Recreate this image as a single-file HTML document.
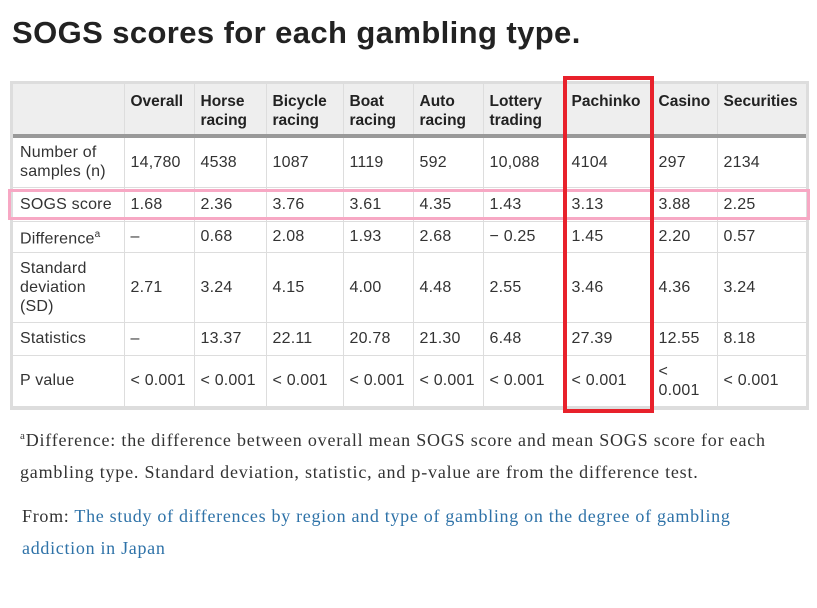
<!DOCTYPE html>
<html><head><meta charset="utf-8"><style>
body{margin:0;width:817px;height:608px;background:#fff;position:relative;overflow:hidden;font-family:"Liberation Sans",sans-serif;color:#333}
h1{position:absolute;left:12px;top:15px;margin:0;font-size:31px;font-weight:bold;color:#222;letter-spacing:0.4px}
.tw{position:absolute;left:10px;top:81px;width:793px;border:3px solid #ddd;}
table{border-collapse:collapse;font-size:16px;table-layout:fixed;width:793px}
td,th{border:1px solid #ddd;padding:0 6px;text-align:left;vertical-align:middle;line-height:19px}
td{letter-spacing:0.2px}
th{background:#eee;font-weight:bold;font-size:15.5px;color:#222;height:52px;vertical-align:top;padding-top:8px;box-sizing:border-box}
thead tr{border-bottom:4px solid #999}
tr:first-child td,tr:first-child th{border-top:none}
td:first-child,th:first-child{border-left:none;padding-left:7px}
td:last-child,th:last-child{border-right:none}
.red{position:absolute;left:563px;top:76px;width:83px;height:329px;border:4px solid #e8212b}
.pink{position:absolute;left:8px;top:189px;width:796px;height:25px;border:3px solid #f7a8c4}
.fn{position:absolute;left:20px;top:420px;width:795px;font-family:"Liberation Serif",serif;font-size:18px;letter-spacing:0.8px;line-height:32px;color:#333}
.from{position:absolute;left:22px;top:500px;width:770px;font-family:"Liberation Serif",serif;font-size:18px;letter-spacing:0.7px;line-height:32px;color:#333}
.from a{color:#2e72a8;text-decoration:none}
</style></head><body>
<h1>SOGS scores for each gambling type.</h1>
<div class="tw"><table>
<colgroup><col style="width:111px"><col style="width:70px"><col style="width:72px"><col style="width:77px"><col style="width:70px"><col style="width:70px"><col style="width:82px"><col style="width:87px"><col style="width:65px"><col style="width:89px"></colgroup>
<thead><tr><th></th><th>Overall</th><th>Horse racing</th><th>Bicycle racing</th><th>Boat racing</th><th>Auto racing</th><th>Lottery trading</th><th>Pachinko</th><th>Casino</th><th>Securities</th></tr></thead>
<tbody>
<tr style="height:51px"><td>Number of samples (n)</td><td>14,780</td><td>4538</td><td>1087</td><td>1119</td><td>592</td><td>10,088</td><td>4104</td><td>297</td><td>2134</td></tr>
<tr style="height:34px"><td>SOGS score</td><td>1.68</td><td>2.36</td><td>3.76</td><td>3.61</td><td>4.35</td><td>1.43</td><td>3.13</td><td>3.88</td><td>2.25</td></tr>
<tr style="height:31px"><td>Difference<sup style="font-size:10px">a</sup></td><td>–</td><td>0.68</td><td>2.08</td><td>1.93</td><td>2.68</td><td>− 0.25</td><td>1.45</td><td>2.20</td><td>0.57</td></tr>
<tr style="height:70px"><td>Standard deviation (SD)</td><td>2.71</td><td>3.24</td><td>4.15</td><td>4.00</td><td>4.48</td><td>2.55</td><td>3.46</td><td>4.36</td><td>3.24</td></tr>
<tr style="height:33px"><td>Statistics</td><td>–</td><td>13.37</td><td>22.11</td><td>20.78</td><td>21.30</td><td>6.48</td><td>27.39</td><td>12.55</td><td>8.18</td></tr>
<tr style="height:51px"><td>P value</td><td>&lt; 0.001</td><td>&lt; 0.001</td><td>&lt; 0.001</td><td>&lt; 0.001</td><td>&lt; 0.001</td><td>&lt; 0.001</td><td>&lt; 0.001</td><td>&lt;<br>0.001</td><td>&lt; 0.001</td></tr>
</tbody></table></div>
<div class="pink"></div>
<div class="red"></div>
<div class="fn"><sup style="font-size:11px">a</sup>Difference: the difference between overall mean SOGS score and mean SOGS score for each gambling type. Standard deviation, statistic, and p-value are from the difference test.</div>
<div class="from">From: <a>The study of differences by region and type of gambling on the degree of gambling addiction in Japan</a></div>
</body></html>
